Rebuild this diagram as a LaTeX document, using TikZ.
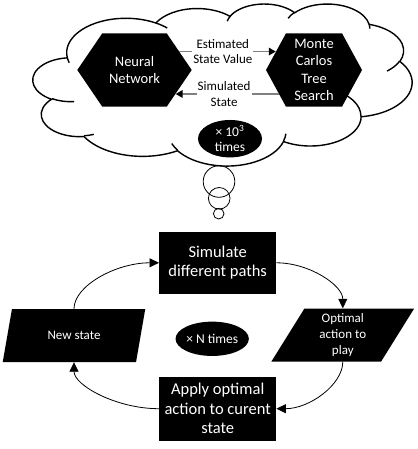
\documentclass[tikz,border=0pt]{standalone}
\usepackage{fontspec}
\setmainfont{Carlito}
\usepackage{tikz}
\usetikzlibrary{calc,shapes.geometric,arrows.meta}
\def\blacknode{\node[fill=black,text=white,align=center,inner sep=0pt]}

\begin{document}
\begin{tikzpicture}[x=1pt,y=-1pt,
  hexbox/.style 2 args={minimum width=#1,minimum height=73.4pt,inner sep=0pt,
    text=white,align=center,font=\fontsize{14.5}{17.5}\selectfont,
    path picture={\fill[black] ([xshift=#2]path picture bounding box.north west)
      -- ([xshift=-#2]path picture bounding box.north east)
      -- (path picture bounding box.east)
      -- ([xshift=-#2]path picture bounding box.south east)
      -- ([xshift=#2]path picture bounding box.south west)
      -- (path picture bounding box.west) -- cycle;}},
  lbl/.style={fill=white,inner xsep=1pt,inner ysep=0pt,align=center,
    font=\fontsize{13}{15.5}\selectfont},
  infoarrow/.style={draw=gray,line width=1.6pt,
    -{Triangle[length=7pt,width=7.5pt,color=black]}},
  flow/.style={draw=black,line width=0.8pt,-{Triangle[length=9.5pt,width=9pt]}},
  procbox/.style={minimum width=117pt,font=\fontsize{16.5}{19.5}\selectfont},
  databox/.style={trapezium,trapezium left angle=65,trapezium right angle=115,
    trapezium stretches,minimum width=143pt,minimum height=53pt,
    font=\fontsize{13}{16}\selectfont},
  countbox/.style={ellipse,minimum width=64pt,minimum height=35pt,
    font=\fontsize{13.5}{15}\selectfont}]
\useasboundingbox (0,0) rectangle (417,449);

\begin{scope}[xshift=33pt,yshift=-3.5pt,x=0.8773pt,y=-0.375pt,line width=1.4pt]
\filldraw[fill=white] (39,143.7)
  arc[start angle=-187.75,delta angle=128.12,x radius=67.53,y radius=91.90]
  arc[start angle=-152.02,delta angle=106.56,x radius=53.33,y radius=72.67]
  arc[start angle=-153.49,delta angle=116.16,x radius=43.65,y radius=59.45]
  arc[start angle=-139.72,delta angle=129.51,x radius=48.57,y radius=65.95]
  arc[start angle=-74.76,delta angle=97.97,x radius=53.33,y radius=72.73]
  arc[start angle=-37.53,delta angle=119.39,x radius=67.75,y radius=92.20]
  arc[start angle=0.46,delta angle=121.52,x radius=57.85,y radius=78.67]
  arc[start angle=16.85,delta angle=129.39,x radius=67.52,y radius=92.15]
  arc[start angle=58.99,delta angle=91.20,x radius=77.20,y radius=105.43]
  arc[start angle=83.31,delta angle=139.80,x radius=43.60,y radius=59.18]
  arc[start angle=120.36,delta angle=143.75,x radius=43.45,y radius=59.45]
  -- cycle;
\draw (46.93,261.77) arc[start angle=85.55,delta angle=34.81,x radius=43.45,y radius=59.45]
  (69.28,348.99) arc[start angle=68.24,delta angle=15.07,x radius=43.60,y radius=59.18]
  (164.78,390.90) arc[start angle=146.24,delta angle=12.24,x radius=67.52,y radius=92.15]
  (288.27,347.51) arc[start angle=4.74,delta angle=12.11,x radius=67.52,y radius=92.15]
  (341.29,229.54) arc[start angle=-64.03,delta angle=64.49,x radius=57.85,y radius=78.67]
  (417.98,153.54) arc[start angle=23.21,delta angle=26.43,x radius=53.33,y radius=72.73]
  (383.24,54.26) arc[start angle=-10.21,delta angle=11.03,x radius=48.57,y radius=65.95]
  (290.78,39.52) arc[start angle=-156.29,delta angle=16.57,x radius=48.57,y radius=65.95]
  (221.41,47.20) arc[start angle=-167.73,delta angle=14.24,x radius=43.65,y radius=59.45]
  (140.00,51.92) arc[start angle=-59.63,delta angle=13.89,x radius=67.53,y radius=91.90]
  (41.27,157.89) arc[start angle=163.19,delta angle=9.06,x radius=67.53,y radius=91.90];
\end{scope}

\node[hexbox={114.4pt}{25pt}] (nn) at (134.5,70) {Neural\\Network};
\node[hexbox={96pt}{20pt}] (mcts) at (314,70) {Monte\\Carlos\\Tree\\Search};
\coordinate (nnT) at ($([xshift=-25pt]nn.north east)!0.5!(nn.east)$);
\coordinate (nnB) at ($([xshift=-25pt]nn.south east)!0.35!(nn.east)$);
\coordinate (mctsT) at ($([xshift=20pt]mcts.north west)!0.5!(mcts.west)$);
\coordinate (mctsB) at ($([xshift=20pt]mcts.south west)!0.35!(mcts.west)$);
\draw[infoarrow] (nnT) -- node[lbl,pos=0.45] (est) {Estimated\\State Value} (mctsT);
\draw[infoarrow] (mctsB) -- node[lbl,pos=0.53] (simst) {Simulated\\State} (nnB);
\blacknode[countbox] (kilo) at (230,138.7) {× 10\textsuperscript{3}\\times};

\draw[line width=0.8pt] (219,181.5) circle[radius=15.8pt];
\draw[line width=0.8pt] (219.2,198.3) circle[radius=10.8pt];
\draw[line width=0.8pt] (218.7,213.7) circle[radius=5.3pt];

\blacknode[procbox,minimum height=62.3pt] (sim) at (217.7,262.8) {Simulate\\different paths};
\blacknode[procbox,minimum height=64pt] (app) at (217.7,408.7) {Apply optimal\\action to curent\\state};
\blacknode[databox] (ns) at (74,335.5) {New state};
\blacknode[databox] (opt) at (342.8,335) {Optimal\\action to\\play};
\blacknode[countbox,minimum height=34.3pt] (ntimes) at (212.2,338.8) {× N times};

\draw[flow] (sim.east) .. controls +(33,0) and +(0,-23) .. (opt.center |- opt.north);
\draw[flow] (opt.center |- opt.south) .. controls +(0,23) and +(33,0) .. (app.east);
\draw[flow] (app.west) .. controls +(-43,0) and +(0,23) .. (ns.center |- ns.south);
\draw[flow] (ns.center |- ns.north) .. controls +(0,-23) and +(-43,0) .. (sim.west);
\end{tikzpicture}
\end{document}
